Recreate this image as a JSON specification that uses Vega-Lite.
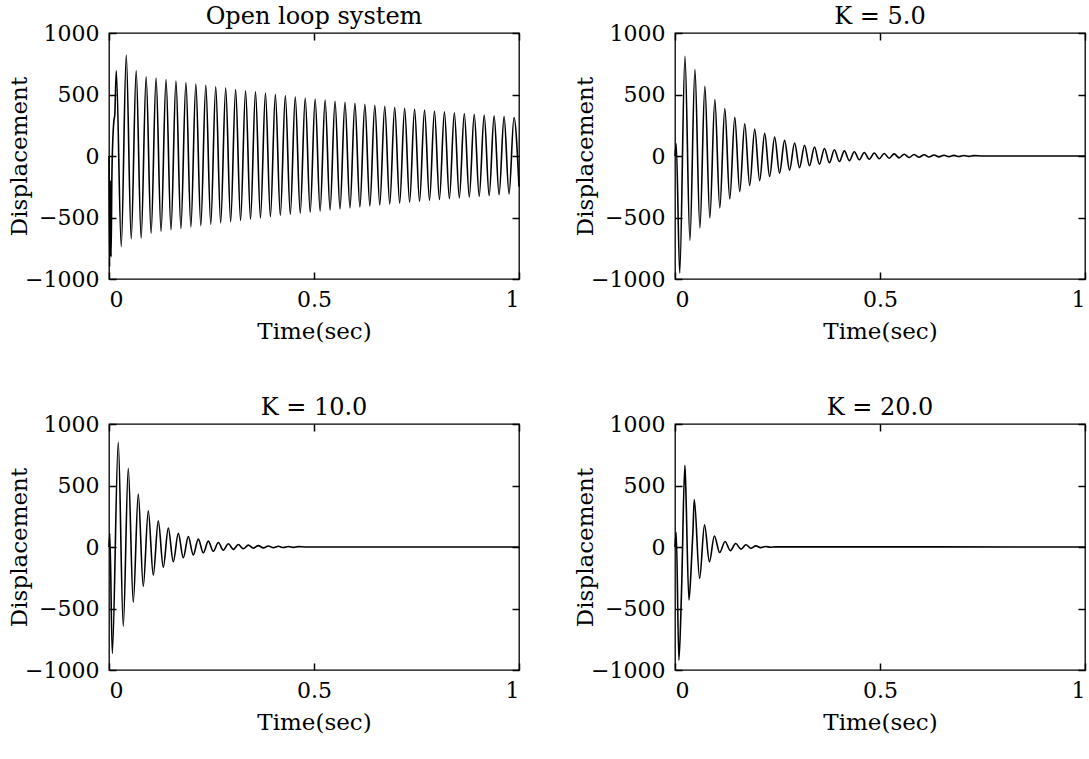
{
  "$schema": "https://vega.github.io/schema/vega-lite/v6.json",
  "background": "white",
  "padding": {"left": 7, "top": 4, "right": 0, "bottom": 0},
  "config": {
    "font": "DejaVu Serif",
    "view": {"stroke": "black", "strokeWidth": 1.3},
    "axis": {"grid": false, "domain": false, "tickColor": "black", "tickSize": -7, "tickWidth": 1.5, "labelPadding": 17, "labelFont": "DejaVu Serif", "labelFontSize": 22, "labelColor": "black", "titleFont": "DejaVu Serif", "titleFontSize": 23, "titleFontWeight": "normal", "titleColor": "black"},
    "axisX": {"labelPadding": 17},
    "title": {"font": "DejaVu Serif", "fontSize": 24, "fontWeight": "normal", "color": "black", "offset": -7},
    "line": {"color": "black", "strokeWidth": 1.6, "interpolate": "monotone"}
  },
  "datasets": {
    "open": [
      {"t": 0, "d": 0}, {"t": 0.0015, "d": -900}, {"t": 0.003, "d": -200}, {"t": 0.005, "d": -820}, {"t": 0.007, "d": -180}, {"t": 0.0095, "d": 150}, {"t": 0.012, "d": 290}, {"t": 0.014, "d": 330},
      {"t": 0.0178, "d": 692}, {"t": 0.0299, "d": -736},
      {"t": 0.0421, "d": 820}, {"t": 0.0542, "d": -673},
      {"t": 0.0663, "d": 692}, {"t": 0.0784, "d": -667},
      {"t": 0.0906, "d": 644}, {"t": 0.1027, "d": -627},
      {"t": 0.1148, "d": 633}, {"t": 0.1269, "d": -612},
      {"t": 0.1391, "d": 621}, {"t": 0.1512, "d": -600},
      {"t": 0.1633, "d": 609}, {"t": 0.1754, "d": -589},
      {"t": 0.1876, "d": 597}, {"t": 0.1997, "d": -577},
      {"t": 0.2118, "d": 585}, {"t": 0.2239, "d": -566},
      {"t": 0.2361, "d": 574}, {"t": 0.2482, "d": -555},
      {"t": 0.2603, "d": 563}, {"t": 0.2724, "d": -544},
      {"t": 0.2846, "d": 552}, {"t": 0.2967, "d": -534},
      {"t": 0.3088, "d": 541}, {"t": 0.3209, "d": -523},
      {"t": 0.3331, "d": 531}, {"t": 0.3452, "d": -513},
      {"t": 0.3573, "d": 521}, {"t": 0.3694, "d": -503},
      {"t": 0.3816, "d": 511}, {"t": 0.3937, "d": -494},
      {"t": 0.4058, "d": 501}, {"t": 0.4179, "d": -484},
      {"t": 0.4301, "d": 491}, {"t": 0.4422, "d": -475},
      {"t": 0.4543, "d": 481}, {"t": 0.4664, "d": -466},
      {"t": 0.4786, "d": 472}, {"t": 0.4907, "d": -457},
      {"t": 0.5028, "d": 463}, {"t": 0.5149, "d": -448},
      {"t": 0.5271, "d": 454}, {"t": 0.5392, "d": -439},
      {"t": 0.5513, "d": 445}, {"t": 0.5634, "d": -431},
      {"t": 0.5756, "d": 437}, {"t": 0.5877, "d": -422},
      {"t": 0.5998, "d": 428}, {"t": 0.6119, "d": -414},
      {"t": 0.6241, "d": 420}, {"t": 0.6362, "d": -406},
      {"t": 0.6483, "d": 412}, {"t": 0.6604, "d": -398},
      {"t": 0.6726, "d": 404}, {"t": 0.6847, "d": -391},
      {"t": 0.6968, "d": 396}, {"t": 0.7089, "d": -383},
      {"t": 0.7211, "d": 388}, {"t": 0.7332, "d": -376},
      {"t": 0.7453, "d": 381}, {"t": 0.7574, "d": -369},
      {"t": 0.7696, "d": 373}, {"t": 0.7817, "d": -361},
      {"t": 0.7938, "d": 366}, {"t": 0.8059, "d": -354},
      {"t": 0.8181, "d": 359}, {"t": 0.8302, "d": -348},
      {"t": 0.8423, "d": 352}, {"t": 0.8544, "d": -341},
      {"t": 0.8666, "d": 345}, {"t": 0.8787, "d": -334},
      {"t": 0.8908, "d": 339}, {"t": 0.9029, "d": -328},
      {"t": 0.9151, "d": 332}, {"t": 0.9272, "d": -322},
      {"t": 0.9393, "d": 326}, {"t": 0.9514, "d": -315},
      {"t": 0.9636, "d": 320}, {"t": 0.9757, "d": -309},
      {"t": 0.9878, "d": 313}, {"t": 1.0, "d": -250}
    ],
    "k5": [
      {"t": 0, "d": 0}, {"t": 0.003, "d": 100},
      {"t": 0.0115, "d": -951},
      {"t": 0.0243, "d": 810}, {"t": 0.0364, "d": -686},
      {"t": 0.0486, "d": 702}, {"t": 0.0607, "d": -585},
      {"t": 0.0729, "d": 566}, {"t": 0.085, "d": -504},
      {"t": 0.0972, "d": 458}, {"t": 0.1093, "d": -423},
      {"t": 0.1215, "d": 385}, {"t": 0.1336, "d": -350},
      {"t": 0.1458, "d": 314}, {"t": 0.1579, "d": -290},
      {"t": 0.1701, "d": 262}, {"t": 0.1822, "d": -240},
      {"t": 0.1944, "d": 220}, {"t": 0.2065, "d": -200},
      {"t": 0.2187, "d": 184}, {"t": 0.2308, "d": -167},
      {"t": 0.243, "d": 154}, {"t": 0.2551, "d": -139},
      {"t": 0.2673, "d": 128}, {"t": 0.2794, "d": -115},
      {"t": 0.2916, "d": 106}, {"t": 0.3037, "d": -95},
      {"t": 0.3159, "d": 88}, {"t": 0.328, "d": -79},
      {"t": 0.3402, "d": 73}, {"t": 0.3523, "d": -66},
      {"t": 0.3645, "d": 61}, {"t": 0.3766, "d": -55},
      {"t": 0.3888, "d": 51}, {"t": 0.4009, "d": -45},
      {"t": 0.4131, "d": 42}, {"t": 0.4252, "d": -38},
      {"t": 0.4374, "d": 35}, {"t": 0.4495, "d": -31},
      {"t": 0.4617, "d": 29}, {"t": 0.4738, "d": -26},
      {"t": 0.486, "d": 24}, {"t": 0.4981, "d": -22},
      {"t": 0.5103, "d": 20}, {"t": 0.5224, "d": -18},
      {"t": 0.5346, "d": 17}, {"t": 0.5467, "d": -15},
      {"t": 0.5589, "d": 14}, {"t": 0.571, "d": -12},
      {"t": 0.5832, "d": 12}, {"t": 0.5953, "d": -10},
      {"t": 0.6075, "d": 10}, {"t": 0.6196, "d": -8},
      {"t": 0.6318, "d": 8}, {"t": 0.6439, "d": -7},
      {"t": 0.6561, "d": 6}, {"t": 0.6682, "d": -5},
      {"t": 0.6804, "d": 5}, {"t": 0.6925, "d": -4},
      {"t": 0.7047, "d": 4}, {"t": 0.7168, "d": -3},
      {"t": 0.729, "d": 3}, {"t": 0.75, "d": 0}, {"t": 1.0, "d": 0}
    ],
    "k10": [
      {"t": 0, "d": 0}, {"t": 0.002, "d": 110}, {"t": 0.008, "d": -865},
      {"t": 0.0226, "d": 851}, {"t": 0.0348, "d": -645},
      {"t": 0.047, "d": 640}, {"t": 0.0592, "d": -450},
      {"t": 0.0714, "d": 431}, {"t": 0.0836, "d": -320},
      {"t": 0.0958, "d": 295}, {"t": 0.108, "d": -228},
      {"t": 0.1202, "d": 214}, {"t": 0.1324, "d": -165},
      {"t": 0.1446, "d": 154}, {"t": 0.1568, "d": -120},
      {"t": 0.169, "d": 111}, {"t": 0.1812, "d": -88},
      {"t": 0.1934, "d": 84}, {"t": 0.2056, "d": -64},
      {"t": 0.2178, "d": 64}, {"t": 0.23, "d": -47},
      {"t": 0.2422, "d": 48}, {"t": 0.2544, "d": -35},
      {"t": 0.2666, "d": 36}, {"t": 0.2788, "d": -26},
      {"t": 0.291, "d": 27}, {"t": 0.3032, "d": -19},
      {"t": 0.3154, "d": 20}, {"t": 0.3276, "d": -14},
      {"t": 0.3398, "d": 15}, {"t": 0.352, "d": -10},
      {"t": 0.3642, "d": 11}, {"t": 0.3764, "d": -7.5},
      {"t": 0.3886, "d": 8}, {"t": 0.4008, "d": -5.5},
      {"t": 0.413, "d": 6}, {"t": 0.4252, "d": -4},
      {"t": 0.4374, "d": 4.5}, {"t": 0.4496, "d": -3},
      {"t": 0.4618, "d": 3}, {"t": 0.48, "d": 0}, {"t": 1.0, "d": 0}
    ],
    "k20": [
      {"t": 0, "d": 0}, {"t": 0.003, "d": 120}, {"t": 0.0095, "d": -920}, {"t": 0.016, "d": -350},
      {"t": 0.024, "d": 665}, {"t": 0.026, "d": 510}, {"t": 0.034, "d": -430}, {"t": 0.039, "d": -200},
      {"t": 0.044, "d": 150}, {"t": 0.047, "d": 385}, {"t": 0.06, "d": -255}, {"t": 0.072, "d": 180},
      {"t": 0.084, "d": -120}, {"t": 0.096, "d": 90}, {"t": 0.109, "d": -45}, {"t": 0.122, "d": 45},
      {"t": 0.135, "d": -30}, {"t": 0.148, "d": 28}, {"t": 0.161, "d": -17}, {"t": 0.173, "d": 18},
      {"t": 0.185, "d": -10}, {"t": 0.197, "d": 9}, {"t": 0.209, "d": -5}, {"t": 0.221, "d": 4},
      {"t": 0.233, "d": -2}, {"t": 0.245, "d": 1}, {"t": 1.0, "d": 0}
    ]
  },
  "columns": 2,
  "spacing": {"row": 145, "column": 156},
  "bounds": "flush",
  "concat": [
    {
      "title": "Open loop system",
      "width": 410, "height": 246,
      "data": {"name": "open"},
      "layer": [
        {"mark": {"type": "line"}, "encoding": {
          "x": {"field": "t", "type": "quantitative", "scale": {"domain": [0, 1], "nice": false}, "axis": {"orient": "bottom", "values": [0, 0.5, 1], "format": "~g", "title": "Time(sec)", "titlePadding": 10}},
          "y": {"field": "d", "type": "quantitative", "scale": {"domain": [-1000, 1000], "nice": false}, "axis": {"orient": "left", "values": [-1000, -500, 0, 500, 1000], "format": "d", "title": "Displacement", "titlePadding": -7}}}},
        {"mark": {"type": "line", "opacity": 0}, "encoding": {
          "x": {"field": "t", "type": "quantitative", "axis": {"orient": "top", "values": [0, 0.5, 1], "labels": false, "title": null}},
          "y": {"field": "d", "type": "quantitative", "axis": {"orient": "right", "values": [-1000, -500, 0, 500, 1000], "labels": false, "title": null}}}}
      ],
      "resolve": {"axis": {"x": "independent", "y": "independent"}}
    },
    {
      "title": "K = 5.0",
      "width": 410, "height": 246,
      "data": {"name": "k5"},
      "layer": [
        {"mark": {"type": "line"}, "encoding": {
          "x": {"field": "t", "type": "quantitative", "scale": {"domain": [0, 1], "nice": false}, "axis": {"orient": "bottom", "values": [0, 0.5, 1], "format": "~g", "title": "Time(sec)", "titlePadding": 10}},
          "y": {"field": "d", "type": "quantitative", "scale": {"domain": [-1000, 1000], "nice": false}, "axis": {"orient": "left", "values": [-1000, -500, 0, 500, 1000], "format": "d", "title": "Displacement", "titlePadding": -7}}}},
        {"mark": {"type": "line", "opacity": 0}, "encoding": {
          "x": {"field": "t", "type": "quantitative", "axis": {"orient": "top", "values": [0, 0.5, 1], "labels": false, "title": null}},
          "y": {"field": "d", "type": "quantitative", "axis": {"orient": "right", "values": [-1000, -500, 0, 500, 1000], "labels": false, "title": null}}}}
      ],
      "resolve": {"axis": {"x": "independent", "y": "independent"}}
    },
    {
      "title": "K = 10.0",
      "width": 410, "height": 246,
      "data": {"name": "k10"},
      "layer": [
        {"mark": {"type": "line"}, "encoding": {
          "x": {"field": "t", "type": "quantitative", "scale": {"domain": [0, 1], "nice": false}, "axis": {"orient": "bottom", "values": [0, 0.5, 1], "format": "~g", "title": "Time(sec)", "titlePadding": 10}},
          "y": {"field": "d", "type": "quantitative", "scale": {"domain": [-1000, 1000], "nice": false}, "axis": {"orient": "left", "values": [-1000, -500, 0, 500, 1000], "format": "d", "title": "Displacement", "titlePadding": -7}}}},
        {"mark": {"type": "line", "opacity": 0}, "encoding": {
          "x": {"field": "t", "type": "quantitative", "axis": {"orient": "top", "values": [0, 0.5, 1], "labels": false, "title": null}},
          "y": {"field": "d", "type": "quantitative", "axis": {"orient": "right", "values": [-1000, -500, 0, 500, 1000], "labels": false, "title": null}}}}
      ],
      "resolve": {"axis": {"x": "independent", "y": "independent"}}
    },
    {
      "title": "K = 20.0",
      "width": 410, "height": 246,
      "data": {"name": "k20"},
      "layer": [
        {"mark": {"type": "line"}, "encoding": {
          "x": {"field": "t", "type": "quantitative", "scale": {"domain": [0, 1], "nice": false}, "axis": {"orient": "bottom", "values": [0, 0.5, 1], "format": "~g", "title": "Time(sec)", "titlePadding": 10}},
          "y": {"field": "d", "type": "quantitative", "scale": {"domain": [-1000, 1000], "nice": false}, "axis": {"orient": "left", "values": [-1000, -500, 0, 500, 1000], "format": "d", "title": "Displacement", "titlePadding": -7}}}},
        {"mark": {"type": "line", "opacity": 0}, "encoding": {
          "x": {"field": "t", "type": "quantitative", "axis": {"orient": "top", "values": [0, 0.5, 1], "labels": false, "title": null}},
          "y": {"field": "d", "type": "quantitative", "axis": {"orient": "right", "values": [-1000, -500, 0, 500, 1000], "labels": false, "title": null}}}}
      ],
      "resolve": {"axis": {"x": "independent", "y": "independent"}}
    }
  ]
}
